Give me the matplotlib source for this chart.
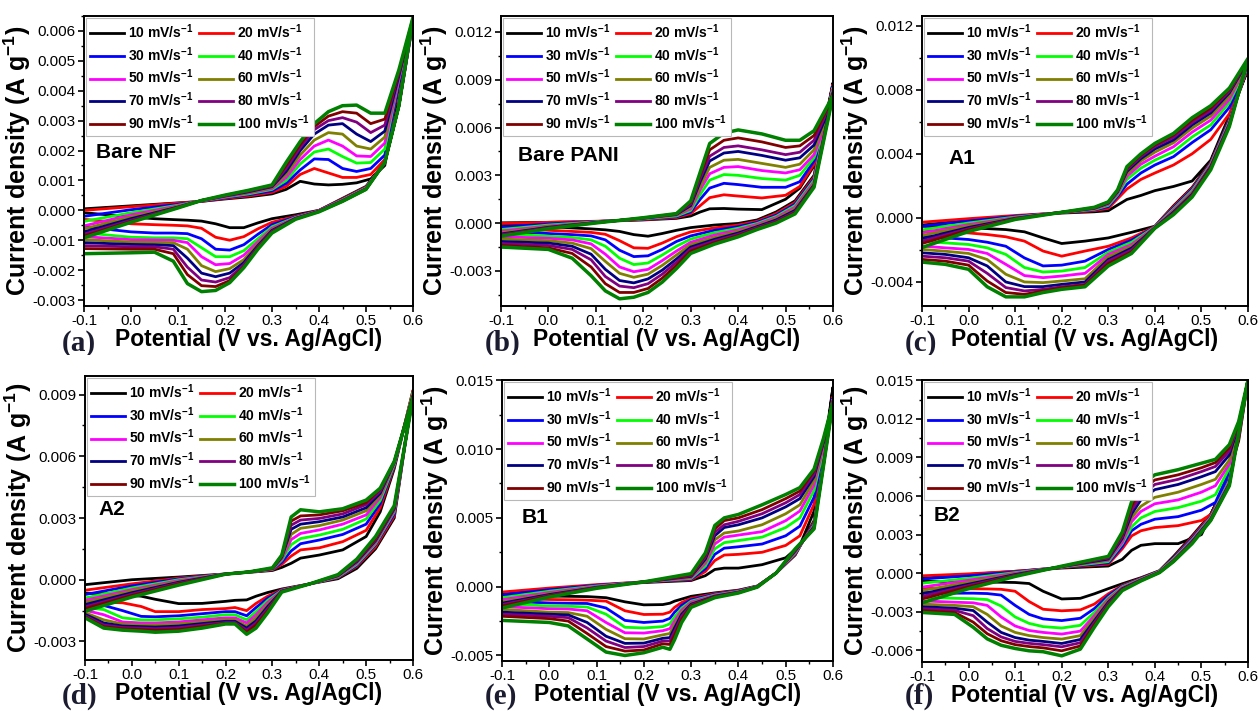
import matplotlib.pyplot as plt
from matplotlib.patches import Rectangle
from matplotlib.ticker import MultipleLocator, FormatStrFormatter

plt.rcParams["font.family"] = ["Liberation Sans", "DejaVu Sans"]
plt.rcParams["mathtext.fontset"] = "custom"
plt.rcParams["mathtext.rm"] = "Liberation Sans"
plt.rcParams["mathtext.bf"] = "Liberation Sans:bold"

scan_rates = [10, 20, 30, 40, 50, 60, 70, 80, 90, 100]
rate_colors = ["#000000", "#ff0000", "#0000ff", "#00ff00", "#ff00ff",
               "#808000", "#000080", "#800080", "#800000", "#008000"]

# current densities in 1e-3 A g-1, one row per scan rate (10 -> 100 mV/s)
# "up" = anodic sweep (-0.1 -> 0.6 V), "down" = cathodic sweep (0.6 -> -0.1 V)

# Bare NF
nf_up_x = [-0.1, 0.0, 0.1, 0.15, 0.2, 0.25, 0.3, 0.33, 0.36, 0.39, 0.42, 0.45, 0.48, 0.51, 0.54, 0.57, 0.6]
nf_up = [
    [0.05, 0.15, 0.25, 0.30, 0.38, 0.45, 0.55, 0.70, 0.97, 0.88, 0.85, 0.87, 0.92, 1.05, 1.50, 4.2, 6.3],
    [0.00, 0.12, 0.24, 0.30, 0.40, 0.48, 0.60, 0.80, 1.20, 1.40, 1.25, 1.10, 1.10, 1.20, 1.70, 4.3, 6.3],
    [-0.20, 0.02, 0.20, 0.31, 0.42, 0.52, 0.65, 0.90, 1.35, 1.72, 1.70, 1.40, 1.30, 1.40, 1.85, 4.3, 6.3],
    [-0.37, -0.08, 0.17, 0.32, 0.44, 0.55, 0.70, 1.00, 1.55, 1.95, 2.05, 1.80, 1.58, 1.60, 2.05, 4.4, 6.35],
    [-0.52, -0.15, 0.15, 0.32, 0.45, 0.58, 0.73, 1.10, 1.70, 2.15, 2.35, 2.15, 1.82, 1.80, 2.25, 4.4, 6.35],
    [-0.62, -0.22, 0.13, 0.33, 0.47, 0.60, 0.76, 1.20, 1.85, 2.35, 2.60, 2.55, 2.15, 2.05, 2.45, 4.5, 6.4],
    [-0.72, -0.28, 0.11, 0.33, 0.48, 0.62, 0.79, 1.30, 2.00, 2.55, 2.85, 2.90, 2.55, 2.30, 2.65, 4.5, 6.4],
    [-0.80, -0.33, 0.10, 0.33, 0.49, 0.64, 0.81, 1.40, 2.10, 2.70, 3.00, 3.10, 2.95, 2.60, 2.85, 4.6, 6.4],
    [-0.86, -0.37, 0.09, 0.33, 0.50, 0.66, 0.83, 1.50, 2.20, 2.80, 3.15, 3.30, 3.25, 2.90, 3.05, 4.6, 6.45],
    [-0.92, -0.40, 0.08, 0.33, 0.51, 0.67, 0.85, 1.60, 2.30, 2.90, 3.30, 3.50, 3.52, 3.25, 3.25, 4.7, 6.45],
]
nf_down_x = [0.6, 0.57, 0.54, 0.5, 0.45, 0.4, 0.35, 0.3, 0.27, 0.24, 0.21, 0.18, 0.15, 0.12, 0.09, 0.05, 0.0, -0.1]
nf_down = [
    [6.3, 3.6, 1.6, 0.80, 0.40, 0.00, -0.15, -0.28, -0.42, -0.58, -0.58, -0.45, -0.36, -0.33, -0.31, -0.28, -0.22, -0.08],
    [6.3, 3.5, 1.6, 0.78, 0.38, 0.00, -0.20, -0.40, -0.62, -0.88, -1.00, -0.90, -0.60, -0.52, -0.50, -0.48, -0.45, -0.30],
    [6.3, 3.5, 1.6, 0.76, 0.36, -0.01, -0.22, -0.48, -0.80, -1.15, -1.33, -1.30, -0.95, -0.78, -0.76, -0.76, -0.72, -0.55],
    [6.35, 3.5, 1.6, 0.75, 0.35, -0.02, -0.24, -0.55, -0.95, -1.35, -1.55, -1.55, -1.25, -0.95, -0.92, -0.92, -0.90, -0.75],
    [6.35, 3.5, 1.6, 0.74, 0.34, -0.02, -0.25, -0.60, -1.05, -1.50, -1.78, -1.82, -1.55, -1.08, -1.00, -0.99, -0.98, -0.88],
    [6.4, 3.5, 1.6, 0.73, 0.33, -0.03, -0.26, -0.64, -1.12, -1.65, -1.95, -2.05, -1.85, -1.30, -1.08, -1.07, -1.06, -0.98],
    [6.4, 3.5, 1.6, 0.72, 0.32, -0.03, -0.27, -0.67, -1.18, -1.75, -2.10, -2.22, -2.10, -1.60, -1.18, -1.15, -1.14, -1.08],
    [6.4, 3.5, 1.6, 0.71, 0.31, -0.04, -0.28, -0.70, -1.22, -1.82, -2.25, -2.40, -2.33, -1.90, -1.30, -1.22, -1.22, -1.18],
    [6.45, 3.5, 1.6, 0.70, 0.30, -0.04, -0.29, -0.73, -1.26, -1.88, -2.35, -2.55, -2.52, -2.15, -1.45, -1.30, -1.30, -1.28],
    [6.45, 3.5, 1.6, 0.70, 0.30, -0.05, -0.30, -0.76, -1.30, -1.92, -2.42, -2.68, -2.72, -2.45, -1.70, -1.40, -1.42, -1.45],
]

# Bare PANI
pani_up_x = [-0.1, 0.0, 0.1, 0.2, 0.27, 0.3, 0.32, 0.34, 0.37, 0.4, 0.45, 0.5, 0.53, 0.56, 0.58, 0.6]
pani_up = [
    [0.02, 0.05, 0.10, 0.20, 0.30, 0.45, 0.70, 0.90, 0.92, 0.88, 0.85, 1.50, 2.20, 3.60, 5.6, 8.8],
    [-0.02, 0.05, 0.12, 0.22, 0.35, 0.60, 1.10, 1.60, 1.78, 1.70, 1.58, 1.75, 2.30, 3.70, 5.6, 8.7],
    [-0.25, -0.05, 0.10, 0.25, 0.40, 0.70, 1.50, 2.20, 2.50, 2.42, 2.25, 2.25, 2.60, 3.90, 5.7, 8.6],
    [-0.40, -0.12, 0.08, 0.27, 0.45, 0.80, 1.80, 2.70, 3.05, 3.00, 2.80, 2.70, 3.00, 4.10, 5.8, 8.5],
    [-0.50, -0.18, 0.06, 0.29, 0.50, 0.90, 2.10, 3.10, 3.50, 3.55, 3.30, 3.15, 3.35, 4.30, 5.9, 8.4],
    [-0.60, -0.22, 0.05, 0.30, 0.52, 1.00, 2.30, 3.50, 3.95, 4.00, 3.75, 3.50, 3.70, 4.60, 6.1, 8.3],
    [-0.68, -0.26, 0.04, 0.31, 0.55, 1.10, 2.60, 3.90, 4.40, 4.50, 4.25, 3.95, 4.10, 4.90, 6.3, 8.2],
    [-0.73, -0.29, 0.03, 0.32, 0.57, 1.20, 2.80, 4.20, 4.75, 4.85, 4.60, 4.30, 4.45, 5.20, 6.5, 8.1],
    [-0.78, -0.32, 0.02, 0.33, 0.59, 1.30, 3.00, 4.60, 5.20, 5.35, 5.10, 4.75, 4.85, 5.50, 6.7, 8.05],
    [-0.82, -0.35, 0.01, 0.34, 0.60, 1.40, 3.20, 5.00, 5.65, 5.85, 5.60, 5.20, 5.20, 5.80, 6.9, 8.0],
]
pani_down_x = [0.6, 0.56, 0.52, 0.48, 0.44, 0.4, 0.35, 0.3, 0.27, 0.24, 0.21, 0.18, 0.15, 0.12, 0.09, 0.05, 0.0, -0.1]
pani_down = [
    [8.8, 3.0, 1.40, 0.70, 0.20, -0.02, -0.12, -0.28, -0.45, -0.65, -0.82, -0.72, -0.52, -0.42, -0.36, -0.30, -0.22, -0.08],
    [8.7, 2.9, 1.30, 0.60, 0.12, -0.12, -0.30, -0.55, -0.85, -1.25, -1.58, -1.55, -1.10, -0.70, -0.58, -0.52, -0.45, -0.28],
    [8.6, 2.8, 1.20, 0.50, 0.05, -0.22, -0.45, -0.80, -1.15, -1.65, -2.05, -2.10, -1.70, -1.05, -0.80, -0.72, -0.65, -0.50],
    [8.5, 2.7, 1.10, 0.42, -0.02, -0.32, -0.60, -1.00, -1.45, -2.00, -2.50, -2.60, -2.20, -1.45, -1.05, -0.90, -0.82, -0.68],
    [8.4, 2.6, 1.00, 0.35, -0.08, -0.42, -0.75, -1.20, -1.75, -2.35, -2.90, -3.05, -2.75, -1.95, -1.30, -1.05, -0.95, -0.85],
    [8.3, 2.5, 0.90, 0.28, -0.15, -0.52, -0.90, -1.35, -2.00, -2.65, -3.20, -3.40, -3.15, -2.40, -1.60, -1.25, -1.10, -1.00],
    [8.2, 2.4, 0.80, 0.20, -0.22, -0.62, -1.02, -1.50, -2.25, -2.95, -3.50, -3.75, -3.60, -2.90, -1.95, -1.45, -1.25, -1.15],
    [8.1, 2.35, 0.72, 0.13, -0.28, -0.70, -1.12, -1.62, -2.45, -3.20, -3.80, -4.05, -3.95, -3.35, -2.30, -1.65, -1.40, -1.28],
    [8.05, 2.3, 0.65, 0.06, -0.34, -0.78, -1.22, -1.75, -2.65, -3.45, -4.10, -4.35, -4.35, -3.80, -2.75, -1.90, -1.55, -1.40],
    [8.0, 2.25, 0.58, 0.00, -0.40, -0.86, -1.32, -1.90, -2.85, -3.70, -4.35, -4.65, -4.75, -4.25, -3.30, -2.20, -1.65, -1.50],
]

# A1
a1_up_x = [-0.1, 0.0, 0.1, 0.2, 0.27, 0.3, 0.32, 0.34, 0.37, 0.4, 0.44, 0.48, 0.52, 0.56, 0.6]
a1_up = [
    [-0.45, -0.15, 0.10, 0.30, 0.38, 0.45, 0.80, 1.15, 1.40, 1.70, 1.96, 2.30, 3.60, 6.40, 9.3],
    [-0.27, -0.05, 0.15, 0.32, 0.45, 0.60, 1.20, 1.80, 2.40, 2.80, 3.30, 4.00, 4.90, 6.50, 9.4],
    [-0.52, -0.20, 0.10, 0.33, 0.50, 0.70, 1.35, 2.10, 2.80, 3.30, 3.82, 4.70, 5.50, 6.90, 9.5],
    [-0.75, -0.32, 0.05, 0.34, 0.53, 0.78, 1.45, 2.40, 3.10, 3.60, 4.13, 5.05, 5.80, 7.20, 9.6],
    [-0.94, -0.42, 0.02, 0.35, 0.56, 0.84, 1.52, 2.60, 3.35, 3.85, 4.44, 5.35, 6.10, 7.40, 9.7],
    [-1.10, -0.50, 0.00, 0.35, 0.58, 0.88, 1.58, 2.75, 3.55, 4.10, 4.69, 5.60, 6.35, 7.60, 9.75],
    [-1.30, -0.60, -0.03, 0.35, 0.60, 0.92, 1.63, 2.90, 3.70, 4.30, 4.86, 5.80, 6.55, 7.80, 9.8],
    [-1.45, -0.68, -0.05, 0.35, 0.62, 0.95, 1.67, 3.00, 3.82, 4.45, 5.02, 5.95, 6.70, 7.90, 9.85],
    [-1.60, -0.75, -0.07, 0.35, 0.64, 0.98, 1.71, 3.10, 3.92, 4.55, 5.17, 6.10, 6.85, 8.00, 9.9],
    [-1.85, -0.85, -0.10, 0.35, 0.66, 1.00, 1.75, 3.20, 4.00, 4.65, 5.27, 6.25, 7.00, 8.10, 9.95],
]
a1_down_x = [0.6, 0.56, 0.52, 0.48, 0.44, 0.4, 0.35, 0.3, 0.25, 0.2, 0.16, 0.12, 0.08, 0.04, 0.0, -0.05, -0.1]
a1_down = [
    [9.3, 6.2, 3.5, 1.9, 0.75, -0.52, -0.90, -1.25, -1.45, -1.60, -1.25, -0.87, -0.73, -0.67, -0.63, -0.56, -0.52],
    [9.4, 6.15, 3.45, 1.85, 0.70, -0.54, -1.25, -1.77, -2.07, -2.39, -2.07, -1.45, -1.18, -1.04, -0.94, -0.87, -0.80],
    [9.5, 6.1, 3.4, 1.78, 0.62, -0.56, -1.39, -1.97, -2.70, -2.95, -3.00, -2.50, -1.77, -1.52, -1.35, -1.25, -1.15],
    [9.6, 6.0, 3.35, 1.7, 0.55, -0.57, -1.52, -2.14, -3.10, -3.32, -3.38, -3.10, -2.28, -1.87, -1.66, -1.56, -1.45],
    [9.7, 5.95, 3.3, 1.62, 0.48, -0.58, -1.66, -2.28, -3.46, -3.63, -3.73, -3.60, -2.90, -2.22, -1.97, -1.87, -1.76],
    [9.75, 5.9, 3.25, 1.55, 0.42, -0.60, -1.77, -2.43, -3.80, -3.94, -4.04, -4.00, -3.52, -2.60, -2.22, -2.08, -1.97],
    [9.8, 5.85, 3.2, 1.48, 0.36, -0.61, -1.89, -2.60, -4.00, -4.15, -4.29, -4.29, -4.00, -3.00, -2.49, -2.28, -2.18],
    [9.85, 5.8, 3.15, 1.42, 0.30, -0.62, -2.00, -2.70, -4.15, -4.30, -4.46, -4.56, -4.35, -3.46, -2.70, -2.49, -2.39],
    [9.9, 5.75, 3.1, 1.36, 0.25, -0.64, -2.12, -2.85, -4.20, -4.37, -4.56, -4.77, -4.66, -3.94, -2.95, -2.70, -2.59],
    [9.95, 5.7, 3.0, 1.3, 0.20, -0.65, -2.22, -3.00, -4.30, -4.46, -4.66, -4.93, -4.93, -4.30, -3.21, -2.90, -2.76],
]

# A2
a2_up_x = [-0.1, 0.0, 0.1, 0.2, 0.25, 0.3, 0.32, 0.34, 0.36, 0.4, 0.45, 0.5, 0.53, 0.56, 0.6]
a2_up = [
    [-0.24, 0.00, 0.13, 0.28, 0.36, 0.45, 0.60, 0.80, 1.05, 1.20, 1.45, 2.10, 3.30, 5.40, 9.2],
    [-0.51, -0.20, 0.08, 0.28, 0.37, 0.48, 0.75, 1.15, 1.45, 1.55, 1.85, 2.40, 3.50, 5.50, 9.2],
    [-0.72, -0.30, 0.04, 0.28, 0.37, 0.50, 0.85, 1.40, 1.75, 1.93, 2.20, 2.70, 3.70, 5.55, 9.1],
    [-0.89, -0.40, 0.00, 0.28, 0.37, 0.51, 0.95, 1.70, 2.00, 2.17, 2.45, 2.95, 3.85, 5.60, 9.1],
    [-1.00, -0.48, -0.04, 0.28, 0.38, 0.52, 1.00, 1.95, 2.25, 2.42, 2.70, 3.15, 4.00, 5.65, 9.0],
    [-1.11, -0.54, -0.08, 0.28, 0.38, 0.53, 1.05, 2.20, 2.50, 2.63, 2.90, 3.35, 4.10, 5.65, 9.0],
    [-1.21, -0.63, -0.12, 0.28, 0.38, 0.54, 1.10, 2.45, 2.70, 2.82, 3.05, 3.50, 4.20, 5.70, 8.95],
    [-1.32, -0.70, -0.16, 0.27, 0.38, 0.55, 1.15, 2.65, 2.90, 2.98, 3.20, 3.65, 4.30, 5.70, 8.9],
    [-1.40, -0.76, -0.20, 0.27, 0.38, 0.56, 1.18, 2.85, 3.10, 3.15, 3.35, 3.75, 4.40, 5.75, 8.9],
    [-1.53, -0.84, -0.26, 0.27, 0.38, 0.58, 1.20, 3.05, 3.40, 3.30, 3.45, 3.87, 4.45, 5.75, 8.85],
]
a2_down_x = [0.6, 0.56, 0.52, 0.48, 0.44, 0.38, 0.32, 0.29, 0.265, 0.245, 0.22, 0.2, 0.15, 0.1, 0.05, 0.02, -0.02, -0.06, -0.1]
a2_down = [
    [9.2, 3.0, 1.50, 0.55, 0.05, -0.20, -0.45, -0.62, -0.80, -0.98, -1.00, -1.05, -1.15, -1.16, -0.95, -0.80, -0.72, -0.68, -0.65],
    [9.2, 3.1, 1.60, 0.65, 0.10, -0.20, -0.48, -0.80, -1.15, -1.50, -1.35, -1.40, -1.45, -1.55, -1.55, -1.30, -1.12, -1.10, -1.08],
    [9.1, 3.2, 1.70, 0.70, 0.12, -0.20, -0.50, -0.90, -1.35, -1.75, -1.55, -1.55, -1.65, -1.75, -1.80, -1.78, -1.50, -1.25, -1.20],
    [9.1, 3.3, 1.75, 0.75, 0.14, -0.20, -0.52, -1.00, -1.55, -1.95, -1.70, -1.70, -1.82, -1.90, -1.95, -1.95, -1.85, -1.45, -1.35],
    [9.0, 3.35, 1.80, 0.80, 0.16, -0.20, -0.53, -1.10, -1.70, -2.10, -1.85, -1.85, -1.95, -2.05, -2.10, -2.10, -2.05, -1.70, -1.48],
    [9.0, 3.4, 1.85, 0.85, 0.18, -0.20, -0.54, -1.20, -1.85, -2.25, -1.95, -1.95, -2.05, -2.15, -2.20, -2.20, -2.15, -1.95, -1.60],
    [8.95, 3.45, 1.90, 0.88, 0.20, -0.20, -0.55, -1.30, -2.00, -2.35, -2.02, -2.02, -2.13, -2.25, -2.30, -2.28, -2.25, -2.10, -1.68],
    [8.9, 3.5, 1.95, 0.92, 0.22, -0.20, -0.56, -1.40, -2.10, -2.45, -2.08, -2.08, -2.20, -2.33, -2.38, -2.35, -2.32, -2.20, -1.75],
    [8.9, 3.55, 2.00, 0.96, 0.23, -0.20, -0.57, -1.50, -2.20, -2.55, -2.12, -2.12, -2.27, -2.42, -2.45, -2.42, -2.38, -2.28, -1.80],
    [8.85, 3.6, 2.10, 1.00, 0.25, -0.20, -0.60, -1.60, -2.35, -2.65, -2.15, -2.15, -2.35, -2.50, -2.55, -2.50, -2.45, -2.35, -1.85],
]

# B1
b1_up_x = [-0.1, 0.0, 0.1, 0.2, 0.3, 0.33, 0.35, 0.37, 0.4, 0.45, 0.5, 0.53, 0.56, 0.58, 0.6]
b1_up = [
    [-0.55, -0.20, 0.10, 0.30, 0.45, 0.80, 1.25, 1.35, 1.35, 1.60, 2.10, 3.00, 5.50, 9.00, 14.5],
    [-0.39, -0.10, 0.15, 0.35, 0.50, 1.10, 1.90, 2.30, 2.35, 2.50, 3.00, 3.70, 6.00, 9.50, 13.8],
    [-0.60, -0.22, 0.10, 0.35, 0.55, 1.30, 2.35, 2.80, 2.90, 3.10, 3.70, 4.40, 6.50, 9.80, 13.7],
    [-0.80, -0.33, 0.05, 0.35, 0.60, 1.50, 2.75, 3.20, 3.35, 3.60, 4.30, 5.00, 7.00, 10.0, 13.6],
    [-0.95, -0.42, 0.02, 0.35, 0.65, 1.70, 3.10, 3.60, 3.75, 4.00, 4.80, 5.50, 7.40, 10.2, 13.6],
    [-1.10, -0.50, -0.02, 0.35, 0.70, 1.85, 3.40, 3.90, 4.05, 4.50, 5.30, 5.95, 7.70, 10.4, 13.5],
    [-1.20, -0.57, -0.05, 0.35, 0.75, 2.00, 3.70, 4.30, 4.50, 5.00, 5.80, 6.40, 8.00, 10.5, 13.5],
    [-1.30, -0.63, -0.07, 0.35, 0.80, 2.15, 3.95, 4.50, 4.75, 5.30, 6.10, 6.70, 8.20, 10.6, 13.5],
    [-1.40, -0.68, -0.09, 0.35, 0.85, 2.30, 4.20, 4.80, 5.00, 5.60, 6.40, 6.95, 8.40, 10.7, 13.4],
    [-1.55, -0.75, -0.12, 0.35, 0.95, 2.45, 4.45, 5.00, 5.25, 5.95, 6.70, 7.20, 8.55, 10.8, 13.4],
]
b1_down_x = [0.6, 0.56, 0.52, 0.48, 0.44, 0.4, 0.35, 0.3, 0.28, 0.265, 0.255, 0.24, 0.2, 0.16, 0.12, 0.08, 0.04, 0.0, -0.1]
b1_down = [
    [14.5, 4.8, 2.30, 1.0, 0.05, -0.25, -0.45, -0.70, -0.90, -1.05, -1.20, -1.30, -1.32, -1.10, -0.80, -0.72, -0.70, -0.68, -0.60],
    [13.8, 4.7, 2.35, 1.0, 0.04, -0.28, -0.50, -0.85, -1.15, -1.50, -1.85, -2.00, -2.02, -1.75, -1.05, -0.98, -0.95, -0.93, -0.85],
    [13.7, 4.6, 2.40, 1.0, 0.03, -0.31, -0.55, -0.95, -1.35, -1.85, -2.30, -2.50, -2.60, -2.45, -1.55, -1.22, -1.20, -1.18, -1.05],
    [13.6, 4.5, 2.45, 1.0, 0.02, -0.34, -0.60, -1.05, -1.55, -2.20, -2.70, -2.90, -3.00, -2.95, -2.00, -1.48, -1.42, -1.40, -1.25],
    [13.6, 4.45, 2.50, 1.0, 0.01, -0.36, -0.63, -1.12, -1.70, -2.50, -3.05, -3.20, -3.37, -3.35, -2.60, -1.75, -1.62, -1.60, -1.45],
    [13.5, 4.4, 2.55, 1.0, 0.00, -0.38, -0.66, -1.20, -1.85, -2.75, -3.40, -3.50, -3.80, -3.78, -3.10, -2.15, -1.88, -1.85, -1.65],
    [13.5, 4.35, 2.60, 1.0, 0.00, -0.40, -0.69, -1.27, -2.00, -3.00, -3.70, -3.75, -4.10, -4.12, -3.60, -2.60, -2.05, -2.00, -1.85],
    [13.5, 4.3, 2.65, 1.0, -0.01, -0.42, -0.72, -1.33, -2.15, -3.25, -3.95, -3.95, -4.35, -4.42, -3.95, -3.00, -2.25, -2.15, -2.00],
    [13.4, 4.25, 2.70, 1.0, -0.02, -0.44, -0.75, -1.40, -2.35, -3.50, -4.20, -4.15, -4.60, -4.68, -4.35, -3.40, -2.50, -2.32, -2.15],
    [13.4, 4.2, 2.75, 1.0, -0.03, -0.46, -0.80, -1.50, -2.60, -3.85, -4.55, -4.40, -4.80, -5.00, -4.75, -3.80, -2.85, -2.60, -2.45],
]

# B2
b2_up_x = [-0.1, 0.0, 0.1, 0.2, 0.3, 0.33, 0.35, 0.37, 0.4, 0.45, 0.5, 0.53, 0.56, 0.58, 0.6]
b2_up = [
    [-0.40, -0.10, 0.15, 0.40, 0.56, 1.08, 1.78, 2.17, 2.30, 2.30, 3.00, 5.30, 7.80, 10.3, 15.0],
    [-0.20, -0.05, 0.15, 0.45, 0.70, 1.90, 2.90, 3.30, 3.55, 3.70, 4.10, 4.80, 7.60, 10.5, 15.0],
    [-0.45, -0.20, 0.10, 0.47, 0.80, 2.10, 3.30, 3.80, 4.20, 4.40, 4.90, 5.50, 7.90, 10.7, 15.0],
    [-0.78, -0.40, 0.05, 0.48, 0.90, 2.30, 3.60, 4.30, 4.80, 5.10, 5.60, 6.10, 8.20, 10.9, 15.0],
    [-1.08, -0.55, 0.00, 0.50, 1.00, 2.40, 4.00, 4.80, 5.40, 5.70, 6.30, 6.80, 8.50, 11.1, 15.0],
    [-1.35, -0.70, -0.05, 0.50, 1.05, 2.60, 4.30, 5.20, 5.90, 6.30, 6.90, 7.30, 8.80, 11.3, 15.0],
    [-1.60, -0.85, -0.10, 0.52, 1.10, 2.70, 4.60, 5.70, 6.50, 6.90, 7.50, 7.90, 9.20, 11.5, 15.0],
    [-1.80, -0.95, -0.15, 0.52, 1.18, 2.85, 4.90, 6.00, 6.90, 7.30, 7.90, 8.30, 9.50, 11.6, 15.0],
    [-2.00, -1.05, -0.20, 0.53, 1.25, 3.00, 5.20, 6.40, 7.25, 7.65, 8.20, 8.60, 9.75, 11.7, 15.0],
    [-2.30, -1.20, -0.25, 0.55, 1.31, 3.20, 5.55, 6.85, 7.65, 8.05, 8.55, 8.85, 10.0, 11.8, 15.0],
]
b2_down_x = [0.6, 0.56, 0.52, 0.48, 0.44, 0.41, 0.37, 0.33, 0.3, 0.27, 0.24, 0.2, 0.16, 0.13, 0.1, 0.07, 0.04, 0.01, -0.03, -0.1]
b2_down = [
    [15.0, 7.5, 4.6, 2.9, 1.3, 0.20, -0.35, -0.82, -1.20, -1.60, -1.95, -2.00, -1.40, -0.80, -0.72, -0.70, -0.69, -0.69, -0.68, -0.62],
    [15.0, 7.4, 4.5, 2.8, 1.2, 0.18, -0.40, -0.95, -1.60, -2.40, -2.85, -2.92, -2.80, -2.20, -1.40, -1.25, -1.22, -1.21, -1.20, -1.15],
    [15.0, 7.3, 4.4, 2.7, 1.15, 0.16, -0.43, -1.00, -1.75, -2.75, -3.50, -3.68, -3.55, -3.20, -2.50, -1.70, -1.58, -1.55, -1.55, -1.50],
    [15.0, 7.2, 4.35, 2.6, 1.1, 0.14, -0.46, -1.05, -1.90, -3.05, -4.05, -4.26, -4.15, -3.90, -3.40, -2.55, -2.05, -1.98, -1.95, -1.88],
    [15.0, 7.1, 4.3, 2.55, 1.05, 0.12, -0.48, -1.10, -2.00, -3.30, -4.50, -4.73, -4.60, -4.45, -4.10, -3.40, -2.50, -2.30, -2.25, -2.15],
    [15.0, 7.0, 4.25, 2.5, 1.0, 0.10, -0.50, -1.15, -2.10, -3.50, -4.85, -5.12, -5.00, -4.85, -4.60, -4.10, -3.20, -2.60, -2.50, -2.40],
    [15.0, 6.95, 4.2, 2.45, 0.97, 0.08, -0.53, -1.20, -2.25, -3.70, -5.15, -5.46, -5.30, -5.20, -5.00, -4.60, -3.80, -2.90, -2.72, -2.60],
    [15.0, 6.9, 4.15, 2.4, 0.94, 0.07, -0.55, -1.25, -2.35, -3.85, -5.40, -5.72, -5.55, -5.45, -5.30, -4.95, -4.30, -3.30, -2.88, -2.75],
    [15.0, 6.85, 4.1, 2.35, 0.92, 0.06, -0.58, -1.30, -2.50, -4.00, -5.65, -6.03, -5.80, -5.70, -5.55, -5.25, -4.70, -3.80, -3.05, -2.90],
    [15.0, 6.8, 4.1, 2.3, 0.90, 0.05, -0.60, -1.35, -2.60, -4.20, -5.90, -6.42, -6.10, -6.03, -5.85, -5.60, -5.10, -4.20, -3.20, -3.05],
]

sample_names = ["Bare NF", "Bare PANI", "A1", "A2", "B1", "B2"]
panel_tags = ["(a)", "(b)", "(c)", "(d)", "(e)", "(f)"]

W, H = 1259, 711
fig = plt.figure(figsize=(W / 100, H / 100), dpi=100)


def px_axes(left, right, top, bottom):
    return fig.add_axes([left / W, 1 - bottom / H, (right - left) / W, (bottom - top) / H])


# axes boxes in pixels, y-limits and major y step for each panel
panels = [
    dict(box=(84, 413, 16, 306), ylim=(-0.0032, 0.0065), ystep=0.001,
         up_x=nf_up_x, up=nf_up, down_x=nf_down_x, down=nf_down, name_y=0.53),
    dict(box=(501, 833, 16, 306), ylim=(-0.0052, 0.0130), ystep=0.003,
         up_x=pani_up_x, up=pani_up, down_x=pani_down_x, down=pani_down, name_y=0.52),
    dict(box=(922, 1248, 16, 306), ylim=(-0.0055, 0.0126), ystep=0.004,
         up_x=a1_up_x, up=a1_up, down_x=a1_down_x, down=a1_down, name_y=0.51),
    dict(box=(85, 413, 376, 660), ylim=(-0.0039, 0.0099), ystep=0.003,
         up_x=a2_up_x, up=a2_up, down_x=a2_down_x, down=a2_down, name_y=0.53),
    dict(box=(502, 833, 380, 661), ylim=(-0.0054, 0.01502), ystep=0.005,
         up_x=b1_up_x, up=b1_up, down_x=b1_down_x, down=b1_down, name_y=0.51),
    dict(box=(922, 1248, 380, 662), ylim=(-0.0069, 0.01502), ystep=0.003,
         up_x=b2_up_x, up=b2_up, down_x=b2_down_x, down=b2_down, name_y=0.52),
]
name_x = [0.035, 0.05, 0.08, 0.04, 0.06, 0.035]
tag_pos = [(62, 351), (485, 351), (905, 351), (62, 704), (485, 704), (905, 704)]

legend_order = [0, 2, 4, 6, 8, 1, 3, 5, 7, 9]

for i, p in enumerate(panels):
    ax = px_axes(*p["box"])
    lines = []
    for k, rate in enumerate(scan_rates):
        xs = p["up_x"] + p["down_x"]
        ys = [v * 1e-3 for v in p["up"][k] + p["down"][k]]
        lw = 2.5 if rate == 100 else 2.0
        line, = ax.plot(xs, ys, color=rate_colors[k], lw=lw, solid_joinstyle="round")
        lines.append(line)

    ax.set_xlim(-0.1, 0.6)
    ax.set_ylim(*p["ylim"])
    ax.xaxis.set_major_locator(MultipleLocator(0.1))
    ax.xaxis.set_minor_locator(MultipleLocator(0.05))
    ax.yaxis.set_major_locator(MultipleLocator(p["ystep"]))
    ax.yaxis.set_minor_locator(MultipleLocator(p["ystep"] / 2))
    ax.xaxis.set_major_formatter(FormatStrFormatter("%.1f"))
    ax.yaxis.set_major_formatter(FormatStrFormatter("%.3f"))
    ax.tick_params(which="major", direction="out", length=4, width=1.2, labelsize=11, pad=2)
    ax.tick_params(which="minor", direction="out", length=2.5, width=1.0)
    for s in ax.spines.values():
        s.set_linewidth(1.4)

    ax.set_xlabel("Potential (V vs. Ag/AgCl)", fontsize=16.5, fontweight="bold", labelpad=0)
    ax.set_ylabel(r"Current density (A g$^{\mathbf{-1}}$)", fontsize=18, fontweight="bold", labelpad=0)

    labels = [rf"{r} mV/s$^{{\mathbf{{-1}}}}$" for r in scan_rates]
    leg = ax.legend([lines[j] for j in legend_order], [labels[j] for j in legend_order],
                    ncol=2, loc="upper left", prop={"weight": "bold", "size": 10},
                    handlelength=2.4, handletextpad=0.3, columnspacing=0.45,
                    labelspacing=0.3, borderpad=0.3, borderaxespad=0.15,
                    fancybox=False, framealpha=1)
    leg.get_frame().set_edgecolor("#b8b8b8")
    leg.get_frame().set_linewidth(0.8)

    ax.text(name_x[i], p["name_y"], sample_names[i], transform=ax.transAxes,
            fontsize=15, fontweight="bold", va="center", ha="left")

    tx, ty = tag_pos[i]
    tag = fig.text(tx / W, 1 - ty / H, panel_tags[i], fontsize=21, fontweight="bold",
                   family=["Liberation Serif", "DejaVu Serif"], color="#1c1c30",
                   ha="left", va="baseline")
    if i < 3:
        # the top row is cut off just above the second row
        clip = Rectangle((0, 1 - 355 / H), 1, 355 / H, transform=fig.transFigure)
        tag.set_clip_path(clip)

fig.savefig("out.png", dpi=100)
